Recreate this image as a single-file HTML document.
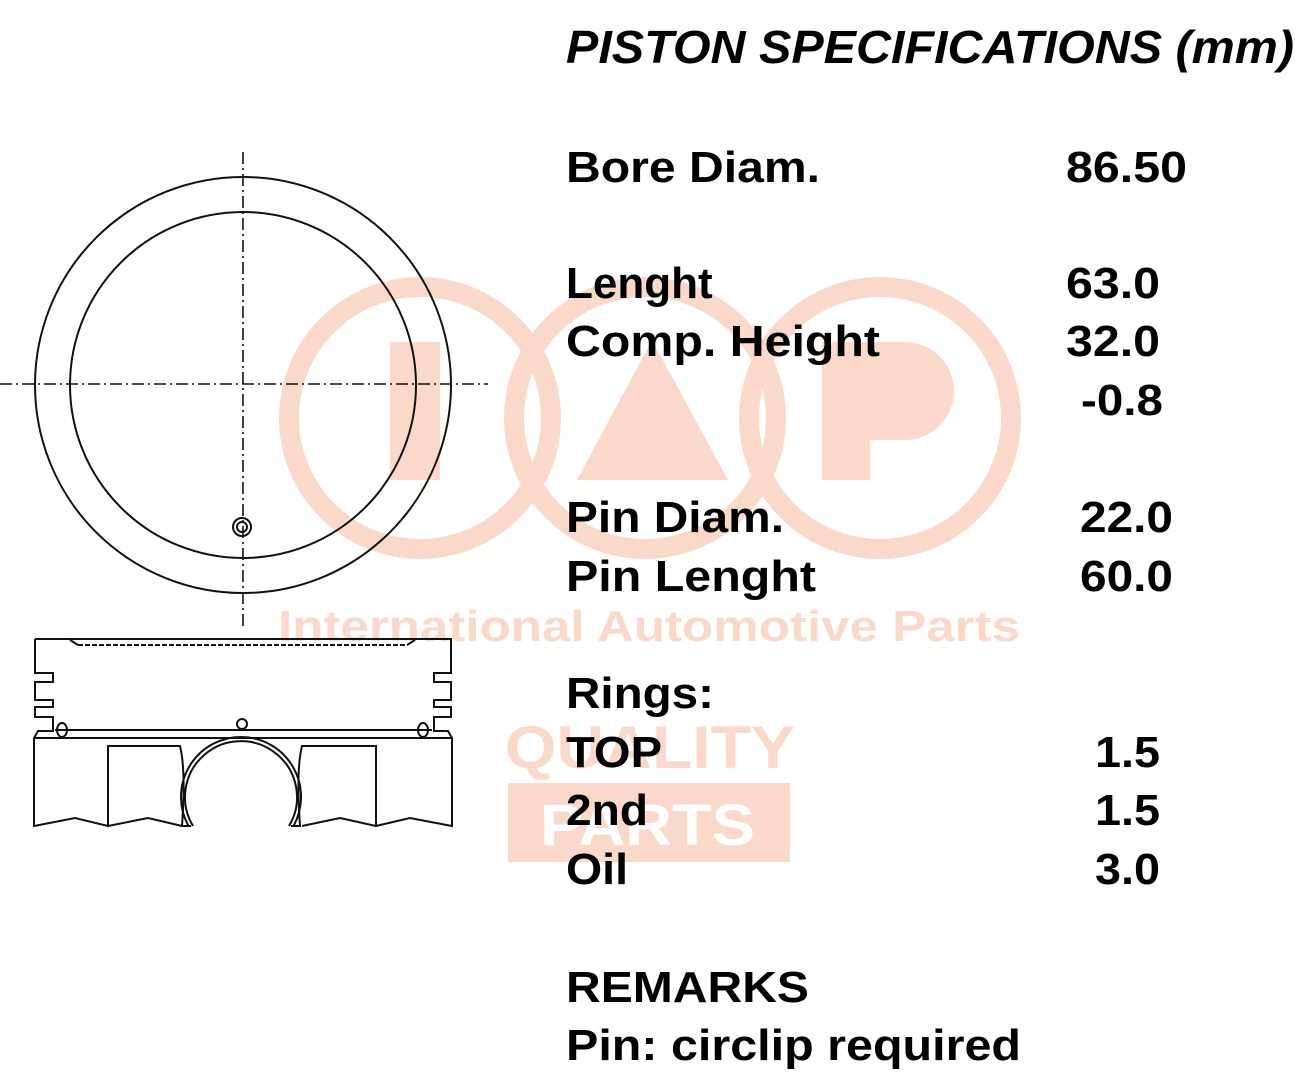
<!DOCTYPE html>
<html><head><meta charset="utf-8"><style>html,body{margin:0;padding:0;background:#fff}svg{display:block}</style></head>
<body>
<svg width="1298" height="1080" viewBox="0 0 1298 1080" xmlns="http://www.w3.org/2000/svg">
<rect width="1298" height="1080" fill="#fff"/>
<!-- watermark -->
<g fill="none" stroke="#fbd9ca" stroke-width="20">
<circle cx="420" cy="418" r="131"/>
<circle cx="645" cy="418" r="131"/>
<circle cx="880" cy="418" r="131"/>
</g>
<g fill="#fbd9ca">
<rect x="390" y="342" width="50" height="138"/>
<polygon points="652,340 728,480 577,480"/>
<path d="M822,342 H905 A48,48 0 0 1 905,440 H870 V480 H822 Z"/>
<text x="278" y="641" font-family="Liberation Sans, sans-serif" font-weight="bold" font-size="44" textLength="742" lengthAdjust="spacingAndGlyphs">International Automotive Parts</text>
<text x="505" y="768" font-family="Liberation Sans, sans-serif" font-weight="bold" font-size="60" textLength="290" lengthAdjust="spacingAndGlyphs">QUALITY</text>
<rect x="508" y="783" width="282" height="79"/>
</g>
<text x="540" y="845" fill="#fff" font-family="Liberation Sans, sans-serif" font-weight="bold" font-size="58" textLength="215" lengthAdjust="spacingAndGlyphs">PARTS</text>

<!-- top view -->
<g fill="none" stroke="#111" stroke-width="2">
<circle cx="243" cy="385" r="208"/>
<circle cx="243" cy="385" r="173"/>
<circle cx="242" cy="527" r="9"/>
<circle cx="242" cy="527" r="5"/>
</g>
<g stroke="#111" stroke-width="1.6" stroke-dasharray="12,4,2,4">
<line x1="0" y1="384" x2="488" y2="384"/>
<line x1="243" y1="152" x2="243" y2="628"/>
</g>
<!-- side view -->
<g fill="none" stroke="#111" stroke-width="2">
<path d="M35,639 H451 V673 H434 V682 H451 V700 H434 V707 H451 V717 H434 V731 H448 L452,738 V826 L410,818 L376,826 V746 H302 Q296,770 300,826 L291,826 M35,639 V673 H53 V682 H35 V700 H53 V707 H35 V717 H53 V731 H38 L34,738 V826 L75,818 L108,826 V746 H180 Q186,770 182,826 L191,826"/>
<line x1="55" y1="730" x2="432" y2="730"/>
<line x1="34" y1="738" x2="452" y2="738"/>
<line x1="108" y1="826" x2="148" y2="818"/><line x1="148" y1="818" x2="182" y2="826"/>
<line x1="302" y1="826" x2="340" y2="818"/><line x1="340" y1="818" x2="376" y2="826"/>
<path d="M193,826 A56,56 0 1 1 289,826"/>
<path d="M188.5,826 A60,60 0 1 1 293.5,826"/>
<ellipse cx="62" cy="730" rx="5" ry="7"/>
<ellipse cx="423" cy="730" rx="5" ry="7"/>
<circle cx="242" cy="724" r="5"/>
<path d="M70,640 L78,645 M415,640 L407,645"/>
</g>
<line x1="78" y1="645" x2="407" y2="645" stroke="#111" stroke-width="2" stroke-dasharray="5,2"/>

<!-- text -->
<g font-family="Liberation Sans, sans-serif" font-weight="bold" fill="#000" font-size="44">
<text x="566" y="63" font-style="italic" font-size="46" textLength="728" lengthAdjust="spacingAndGlyphs">PISTON SPECIFICATIONS (mm)</text>
<text x="566" y="182" textLength="254" lengthAdjust="spacingAndGlyphs">Bore Diam.</text>
<text x="1066" y="182" textLength="121" lengthAdjust="spacingAndGlyphs">86.50</text>
<text x="566" y="298">Lenght</text>
<text x="1066" y="298" textLength="94" lengthAdjust="spacingAndGlyphs">63.0</text>
<text x="566" y="356" textLength="314" lengthAdjust="spacingAndGlyphs">Comp. Height</text>
<text x="1066" y="356" textLength="94" lengthAdjust="spacingAndGlyphs">32.0</text>
<text x="1081" y="415" textLength="82" lengthAdjust="spacingAndGlyphs">-0.8</text>
<text x="566" y="532" textLength="218" lengthAdjust="spacingAndGlyphs">Pin Diam.</text>
<text x="1080" y="532" textLength="93" lengthAdjust="spacingAndGlyphs">22.0</text>
<text x="566" y="591" textLength="250" lengthAdjust="spacingAndGlyphs">Pin Lenght</text>
<text x="1080" y="591" textLength="93" lengthAdjust="spacingAndGlyphs">60.0</text>
<text x="566" y="708" textLength="148" lengthAdjust="spacingAndGlyphs">Rings:</text>
<text x="566" y="767" textLength="96" lengthAdjust="spacingAndGlyphs">TOP</text>
<text x="1095" y="767" textLength="65" lengthAdjust="spacingAndGlyphs">1.5</text>
<text x="566" y="825" textLength="82" lengthAdjust="spacingAndGlyphs">2nd</text>
<text x="1095" y="825" textLength="65" lengthAdjust="spacingAndGlyphs">1.5</text>
<text x="566" y="884" textLength="62" lengthAdjust="spacingAndGlyphs">Oil</text>
<text x="1095" y="884" textLength="65" lengthAdjust="spacingAndGlyphs">3.0</text>
<text x="566" y="1002" textLength="243" lengthAdjust="spacingAndGlyphs">REMARKS</text>
<text x="566" y="1060" textLength="455" lengthAdjust="spacingAndGlyphs">Pin: circlip required</text>
</g>
</svg>
</body></html>
